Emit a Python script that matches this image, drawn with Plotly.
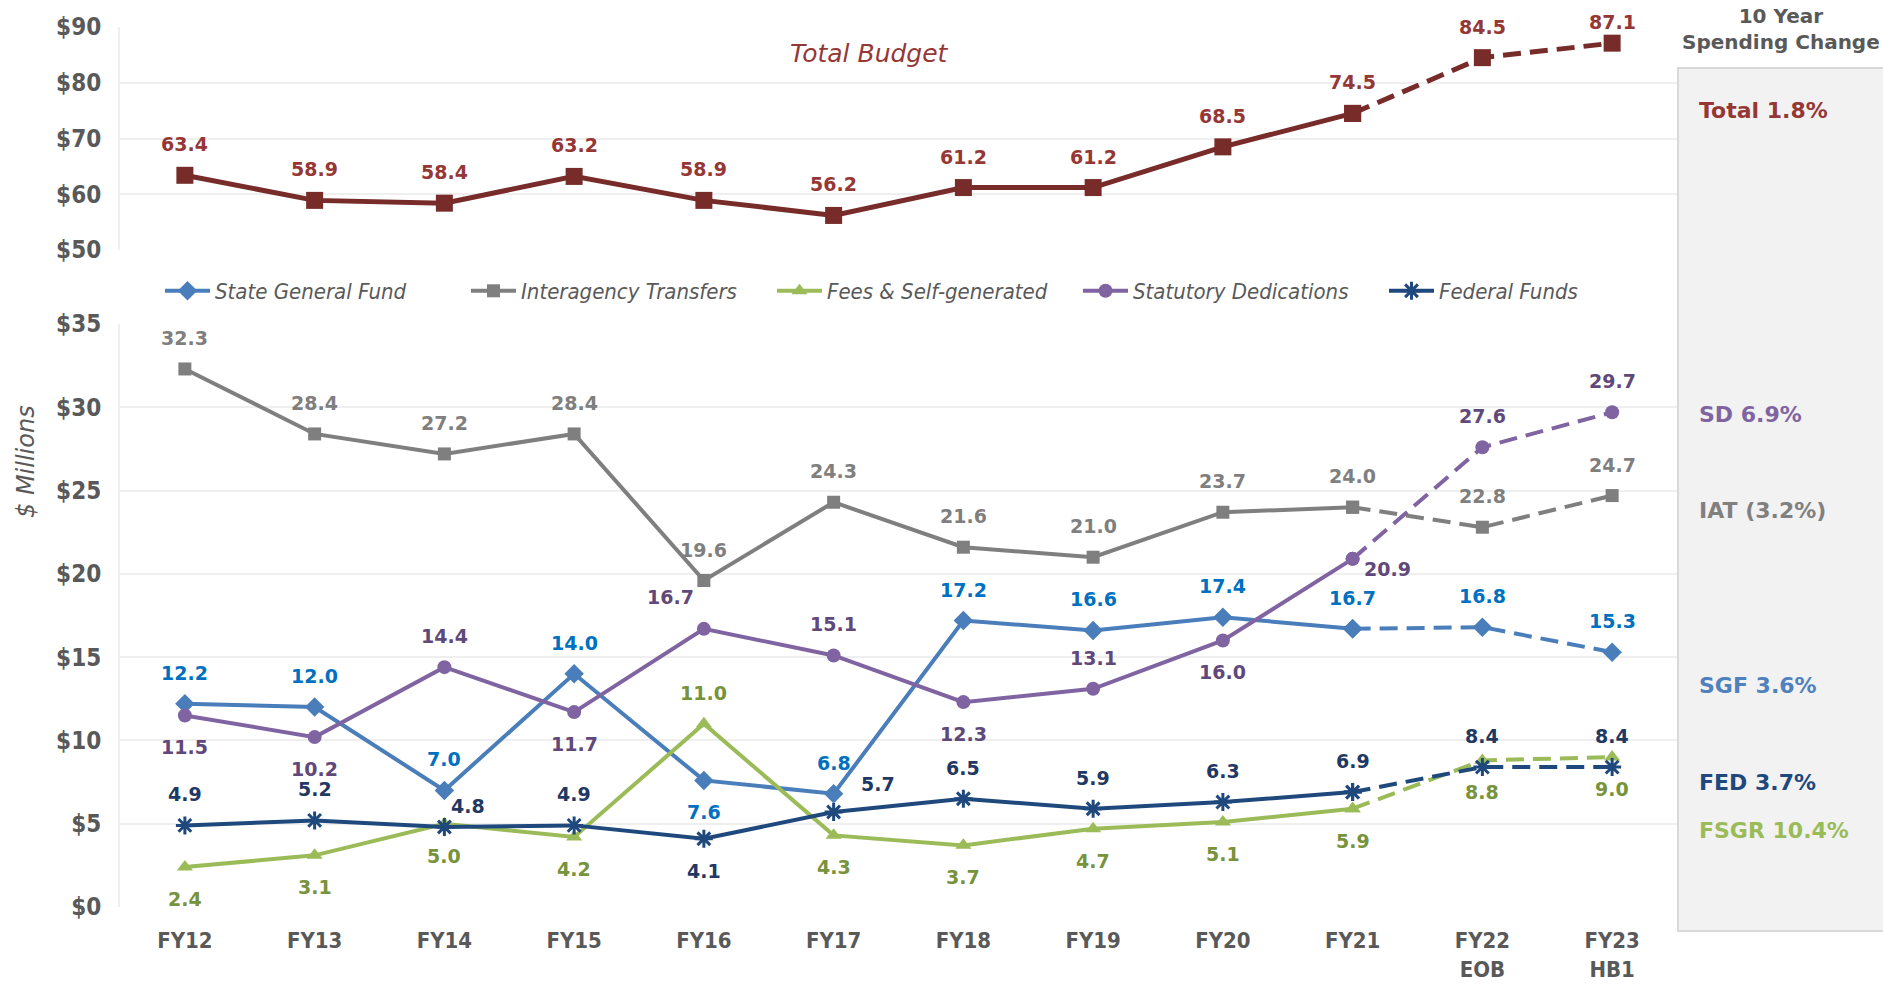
import plotly.graph_objects as go

categories = ["FY12", "FY13", "FY14", "FY15", "FY16", "FY17", "FY18", "FY19", "FY20", "FY21", "FY22<br>EOB", "FY23<br>HB1"]

total = [63.4, 58.9, 58.4, 63.2, 58.9, 56.2, 61.2, 61.2, 68.5, 74.5, 84.5, 87.1]
sgf = [12.2, 12.0, 7.0, 14.0, 7.6, 6.8, 17.2, 16.6, 17.4, 16.7, 16.8, 15.3]
iat = [32.3, 28.4, 27.2, 28.4, 19.6, 24.3, 21.6, 21.0, 23.7, 24.0, 22.8, 24.7]
fsgr = [2.4, 3.1, 5.0, 4.2, 11.0, 4.3, 3.7, 4.7, 5.1, 5.9, 8.8, 9.0]
sd = [11.5, 10.2, 14.4, 11.7, 16.7, 15.1, 12.3, 13.1, 16.0, 20.9, 27.6, 29.7]
fed = [4.9, 5.2, 4.8, 4.9, 4.1, 5.7, 6.5, 5.9, 6.3, 6.9, 8.4, 8.4]

# label placement codes: "T" above, "B" below, others custom offsets
OFF = {"T": (0, 31), "T2": (0, 21), "B": (0, -32), "TL": (-33, 32), "BR": (35, -10),
       "TR": (24, 21), "TR2": (44, 28)}
pos_total = ["T"] * 11 + ["T2"]
pos_sgf = ["T", "T", "T", "T", "B", "T", "T", "T", "T", "T", "T", "T"]
pos_iat = ["T"] * 12
pos_fsgr = ["B", "B", "B", "B", "T", "B", "B", "B", "B", "B", "B", "B"]
pos_sd = ["B", "B", "T", "B", "TL", "T", "B", "T", "B", "BR", "T", "T"]
pos_fed = ["T", "T", "TR", "T", "B", "TR2", "T", "T", "T", "T", "T", "T"]

change_labels = ["Total 1.8%", "SD 6.9%", "IAT (3.2%)", "SGF 3.6%", "FED 3.7%", "FSGR 10.4%"]
change_colors = ["#953735", "#8064A2", "#808080", "#4F81BD", "#1F497D", "#9BBB59"]
change_ypix = [110, 414, 510, 686, 782, 830]

# geometry in page pixels (body margin removed by post_script)
W, H = 1883, 985
left_p, right_p, top_p, bot_p = 120, 1677, 27, 907
ml, mr, mt, mb = left_p, W - right_p, top_p, H - bot_p
pw, ph = W - ml - mr, H - mt - mb
def px_x(p):
    return (p - ml) / pw
def px_y(p):
    return (H - mb - p) / ph

NUM_FONT = "DejaVu Sans"
COND_FONT = "DejaVu Sans Condensed"

fig = go.Figure()

def add_series(y, name, line_color, text_color, symbol, msize, positions, top=False, legend=True, lw=4, mline=None):
    xa, ya = ("x2", "y2") if top else ("x", "y")
    marker = dict(symbol=symbol, size=msize, color=line_color)
    if mline:
        marker["line"] = dict(color=line_color, width=mline)
    fig.add_trace(go.Scatter(x=categories[:10], y=y[:10], mode="lines+markers", name=name,
                             line=dict(color=line_color, width=lw), marker=marker,
                             legendgroup=name, showlegend=legend, xaxis=xa, yaxis=ya, cliponaxis=False))
    fig.add_trace(go.Scatter(x=categories[9:], y=y[9:], mode="lines+markers", name=name,
                             line=dict(color=line_color, width=lw, dash="18px,9px"), marker=marker,
                             legendgroup=name, showlegend=False, xaxis=xa, yaxis=ya, cliponaxis=False))
    for c, v, p in zip(categories, y, positions):
        dx, dy = OFF[p]
        fig.add_annotation(x=c, y=v, xref=xa, yref=ya, text=f"{v:.1f}", showarrow=False,
                           xshift=dx, yshift=dy, xanchor="center", yanchor="middle",
                           font=dict(family=NUM_FONT, size=19, color=text_color, weight="bold"))

add_series(total, "Total", "#772C2A", "#953735", "square", 17, pos_total, top=True, legend=False, lw=5)
add_series(sgf, "State General Fund", "#4A7EBB", "#0070C0", "diamond", 15, pos_sgf)
add_series(iat, "Interagency Transfers", "#7F7F7F", "#7F7F7F", "square", 13, pos_iat)
add_series(fsgr, "Fees & Self-generated", "#9BBB59", "#77933C", "triangle-up", 14, pos_fsgr)
add_series(sd, "Statutory Dedications", "#8064A2", "#60497A", "circle", 14, pos_sd)
add_series(fed, "Federal Funds", "#1F497D", "#1F3864", "asterisk-open", 15, pos_fed, mline=3)

grid = "#EFEFEF"
tickfont = dict(family=COND_FONT, size=24, color="#595959", weight="bold")

fig.update_layout(
    width=W, height=H,
    margin=dict(l=ml, r=mr, t=mt, b=mb, autoexpand=False),
    plot_bgcolor="white", paper_bgcolor="white",
    xaxis=dict(type="category", range=[-0.5, 11.5], anchor="y", showgrid=False, zeroline=False,
               showline=False, ticks="outside", ticklen=14, tickcolor="rgba(0,0,0,0)",
               tickfont=dict(family=COND_FONT, size=22, color="#595959", weight="bold")),
    xaxis2=dict(type="category", range=[-0.5, 11.5], anchor="y2", matches="x", showgrid=False,
                showticklabels=False, zeroline=False, showline=False),
    yaxis=dict(domain=[0, px_y(324)], range=[0, 35], dtick=5, tickprefix="$", showgrid=True,
               gridcolor=grid, gridwidth=2, zeroline=False, showline=True, linecolor=grid, linewidth=2,
               ticks="outside", ticklen=12, tickcolor="rgba(0,0,0,0)", tickfont=tickfont),
    yaxis2=dict(domain=[px_y(250), 1], range=[50, 90], dtick=10, tickprefix="$", showgrid=True,
                gridcolor=grid, gridwidth=2, zeroline=False, showline=True, linecolor=grid, linewidth=2,
                ticks="outside", ticklen=12, tickcolor="rgba(0,0,0,0)", tickfont=tickfont, anchor="x2"),
    legend=dict(orientation="h", x=px_x(160), y=px_y(291), xanchor="left", yanchor="middle",
                font=dict(family=COND_FONT, size=22, color="#595959", style="italic"),
                itemwidth=45, entrywidth=246, entrywidthmode="pixels",
                bgcolor="rgba(0,0,0,0)"),
    showlegend=True,
)

# right-hand spending change panel
fig.add_shape(type="rect", xref="paper", yref="paper", x0=px_x(1678), x1=px_x(1900),
              y0=px_y(931), y1=px_y(68), fillcolor="#F2F2F2", line=dict(color="#D9D9D9", width=2),
              layer="below")
fig.add_annotation(xref="paper", yref="paper", x=px_x(1781), y=px_y(29), text="10 Year<br>Spending Change",
                   showarrow=False, xanchor="center", yanchor="middle",
                   font=dict(family=NUM_FONT, size=20, color="#595959", weight="bold"))
for lab, col, yp in zip(change_labels, change_colors, change_ypix):
    fig.add_annotation(xref="paper", yref="paper", x=px_x(1697), y=px_y(yp), text=lab, showarrow=False,
                       xanchor="left", yanchor="middle",
                       font=dict(family=NUM_FONT, size=22, color=col, weight="bold"))

fig.add_annotation(xref="paper", yref="paper", x=px_x(869), y=px_y(53), text="Total Budget", showarrow=False,
                   xanchor="center", yanchor="middle",
                   font=dict(family=NUM_FONT, size=25, color="#953735", style="italic"))
fig.add_annotation(xref="paper", yref="paper", x=px_x(26), y=px_y(462), text="$ Millions", showarrow=False,
                   textangle=-90, xanchor="center", yanchor="middle",
                   font=dict(family=NUM_FONT, size=24, color="#595959", style="italic"))

fig.write_html("out.html", config={"displayModeBar": False},
               post_script="document.body.style.margin='0';document.body.style.overflow='hidden';")
